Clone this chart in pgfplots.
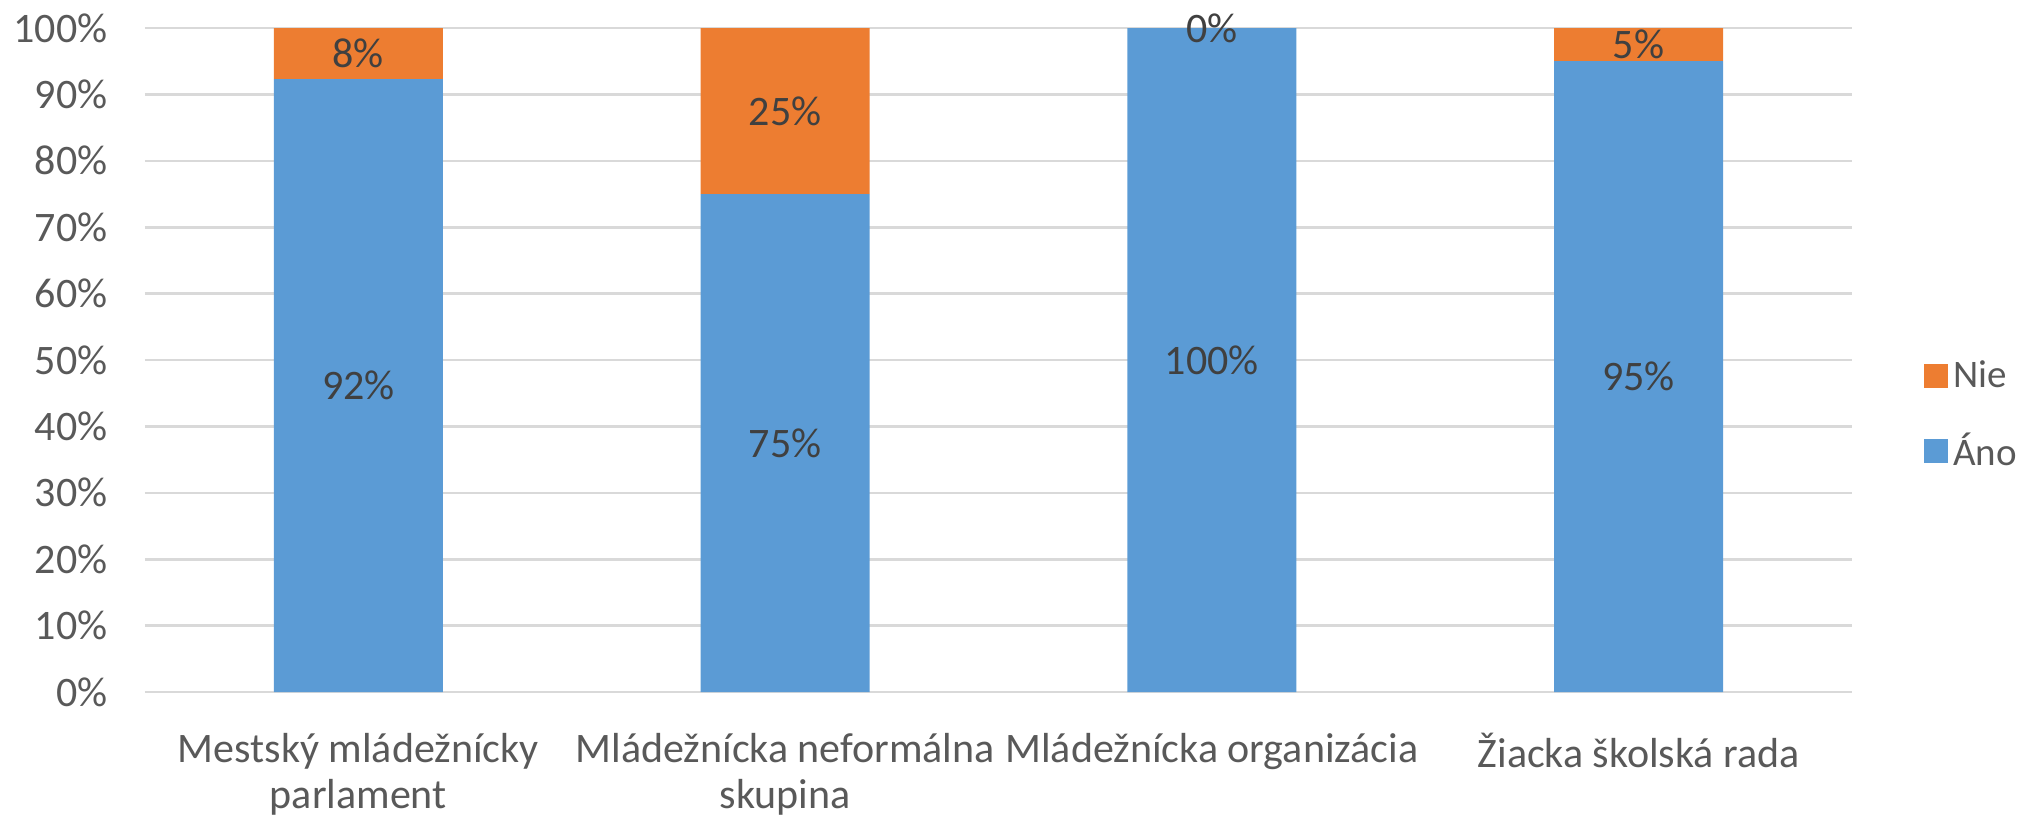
\documentclass[border=0pt]{standalone}
\usepackage{pgfplots}
\pgfplotsset{compat=1.18}
\usepackage{pgfplotstable}
\usepackage{fontspec}
\setmainfont{Carlito}
\definecolor{cblue}{HTML}{5B9BD5}
\definecolor{corange}{HTML}{ED7D31}
\definecolor{tickgray}{HTML}{595959}
\definecolor{labgray}{HTML}{404040}
\definecolor{gridgray}{HTML}{D9D9D9}
\pgfplotstableread{
x ano nie
0 92.3 7.7
1 75 25
2 100 0
3 95 5
}\data
\begin{document}
\begin{tikzpicture}
\begin{axis}[
  scale only axis, width=853.5pt, height=332pt,
  ybar stacked, bar width=84.5pt,
  xmin=-0.5, xmax=3.5, ymin=0, ymax=100,
  clip=false,
  axis line style={draw=none},
  major tick length=0pt,
  xtick={0,1,2,3},
  xticklabels={{Mestský mládežnícky\\parlament},{Mládežnícka neformálna\\skupina},{Mládežnícka organizácia},{Žiacka školská rada}},
  xticklabel style={align=center, font=\fontsize{21}{23}\selectfont, text=tickgray, anchor=north, inner sep=0pt, yshift=-20.5pt},
  ytick={0,10,...,100},
  yticklabel={\pgfmathprintnumber{\tick}\%},
  /pgf/number format/assume math mode=true,
  yticklabel style={font=\fontsize{21}{21}\selectfont, text=tickgray, anchor=east, inner sep=0pt, xshift=-18.5pt},
  ymajorgrids, grid style={gridgray, line width=1.3pt},
  reverse legend,
  legend style={at={(1.042,0.505)}, anchor=north west, draw=none, fill=none,
    font=\fontsize{19.5}{19.5}\selectfont, text=tickgray, row sep=17pt, inner sep=0pt,
    nodes={inner sep=2pt, inner xsep=2.5pt}},
  legend cell align=left,
  nodes near coords={\pgfmathprintnumber[fixed,precision=0]{\pgfplotspointmeta}\%},
  point meta=explicit,
  every node near coord/.append style={anchor=center, font=\fontsize{21}{21}\selectfont, text=labgray},
]
\addplot[fill=cblue, draw=none,
  legend image code/.code={\fill[cblue] (0pt,-6pt) rectangle (12pt,6pt);}]
  table[x=x, y=ano, meta=ano]{\data};
\addlegendentry{Áno}
\addplot[fill=corange, draw=none,
  legend image code/.code={\fill[corange] (0pt,-6pt) rectangle (12pt,6pt);}]
  table[x=x, y=nie, meta=nie]{\data};
\addlegendentry{Nie}
\coordinate (zerolab) at (axis cs:2,100);
\coordinate (bl) at (rel axis cs:-0.0849,-0.1883);
\coordinate (tr) at (rel axis cs:1.1037,1.0422);
\end{axis}
\node[anchor=center, font=\fontsize{21}{21}\selectfont, text=labgray] at (zerolab) {0\%};
\pgfresetboundingbox
\useasboundingbox (bl) rectangle (tr);
\end{tikzpicture}
\end{document}
